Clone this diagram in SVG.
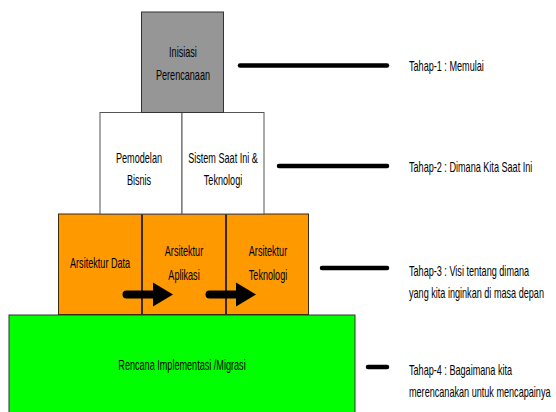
<svg xmlns="http://www.w3.org/2000/svg" width="556" height="412" viewBox="0 0 556 412">
<style>
text{font-family:"Liberation Sans",Arial,sans-serif;font-size:14px;fill:#000;transform-box:fill-box;transform-origin:center;transform:scale(0.65,1)}
.c{text-anchor:middle}
.l{transform-origin:left center}
.lead{stroke:#000;stroke-width:4.5;stroke-linecap:round;fill:none}
</style>
<rect width="556" height="412" fill="#fff"/>
<g id="node-rencana">
<rect x="9" y="315" width="346" height="110" fill="#00ff00" stroke="#333" stroke-width="1"/>
<text class="c" x="182" y="370.5">Rencana Implementasi /Migrasi</text>
</g>
<g id="node-arsitektur-data">
<rect x="58.5" y="214" width="83" height="100.5" fill="#ff9900" stroke="#3a2a10" stroke-width="1"/>
<text class="c" x="100" y="268">Arsitektur Data</text>
</g>
<g id="node-arsitektur-aplikasi">
<rect x="142.5" y="214" width="83" height="100.5" fill="#ff9900" stroke="#3a2a10" stroke-width="1"/>
<text class="c" x="184" y="256.5">Arsitektur</text>
<text class="c" x="184" y="280">Aplikasi</text>
</g>
<g id="node-arsitektur-teknologi">
<rect x="226.5" y="214" width="82" height="100.5" fill="#ff9900" stroke="#3a2a10" stroke-width="1"/>
<text class="c" x="268" y="256.5">Arsitektur</text>
<text class="c" x="268" y="280">Teknologi</text>
</g>
<g id="node-pemodelan-bisnis">
<rect x="100" y="112.5" width="82" height="101.5" fill="#fff" stroke="#555" stroke-width="1"/>
<text class="c" x="139" y="163">Pemodelan</text>
<text class="c" x="139" y="185">Bisnis</text>
</g>
<g id="node-sistem-saat-ini">
<rect x="182" y="112.5" width="82" height="101.5" fill="#fff" stroke="#555" stroke-width="1"/>
<text class="c" x="223" y="163">Sistem Saat Ini &amp;</text>
<text class="c" x="223" y="185">Teknologi</text>
</g>
<g id="node-inisiasi">
<rect x="141.5" y="12" width="82" height="100.5" fill="#969696" stroke="#333" stroke-width="1"/>
<text class="c" x="183" y="57">Inisiasi</text>
<text class="c" x="183" y="80.5">Perencanaan</text>
</g>
<g id="connectors">
<path d="M126.5,290.5 H153 V282.5 L173,294.5 L153,306.5 V298.5 H126.5 A4,4 0 0 1 126.5,290.5 Z" fill="#000"/>
<path d="M209.5,290.5 H236 V282.5 L256,294.5 L236,306.5 V298.5 H209.5 A4,4 0 0 1 209.5,290.5 Z" fill="#000"/>
<line class="lead" x1="240" y1="65.5" x2="387" y2="65.5"/>
<line class="lead" x1="279" y1="166" x2="387" y2="166"/>
<line class="lead" x1="322" y1="268" x2="387" y2="268"/>
<line class="lead" x1="368" y1="367" x2="387" y2="367"/>
</g>
<g id="labels">
<text class="l" x="409" y="71.5">Tahap-1 : Memulai</text>
<text class="l" x="409" y="172.5">Tahap-2 : Dimana Kita Saat Ini</text>
<text class="l" x="409" y="276">Tahap-3 : Visi tentang dimana</text>
<text class="l" x="409" y="298">yang kita inginkan di masa depan</text>
<text class="l" x="409" y="375.5">Tahap-4 : Bagaimana kita</text>
<text class="l" x="409" y="397">merencanakan untuk mencapainya</text>
</g>
</svg>
